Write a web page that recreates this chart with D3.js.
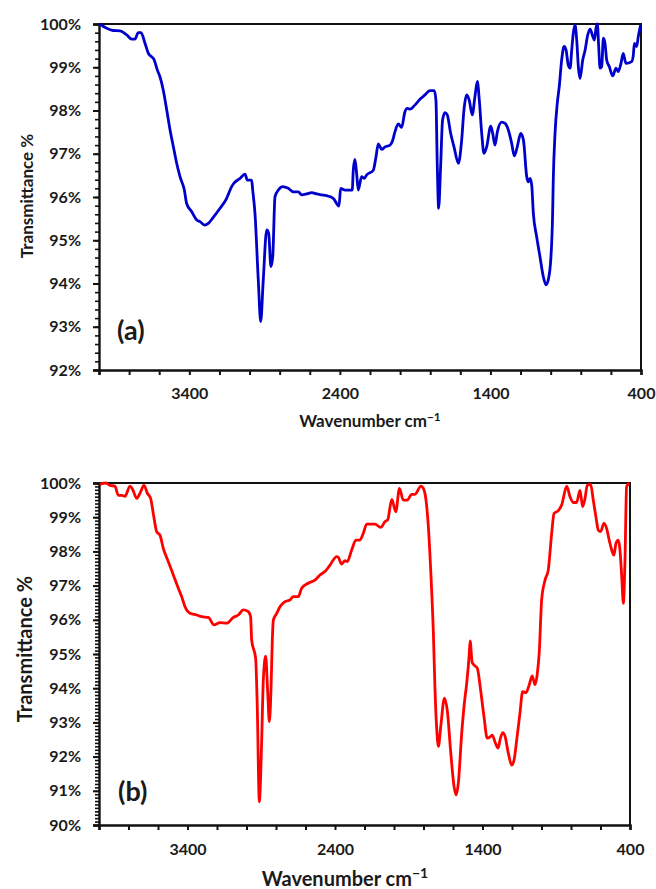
<!DOCTYPE html>
<html>
<head>
<meta charset="utf-8">
<script src="https://cdn.jsdelivr.net/npm/d3@7/dist/d3.min.js"></script>
<style>
  html, body { margin: 0; padding: 0; background: #fff; }
  svg { display: block; }
  text { font-family: Lato, "Open Sans", sans-serif; font-weight: 700; fill: #1a1a1a; }
</style>
</head>
<body>
<svg id="chart" width="656" height="889"></svg>
<script>
// FTIR spectrum (a): wavenumber (cm-1) and transmittance (%)
const waveA = [3995,3949,3907,3860,3816,3783,3761,3739,3721,3694,3672,3650,3635,3613,3595,3573,3550,3528,3506,3484,3462,3433,3418,3384,3351,3329,3296,3274,3241,3196,3152,3119,3108,3063,3030,3015,2986,2979,2964,2942,2926,2909,2886,2873,2858,2846,2831,2809,2780,2743,2709,2676,2654,2620,2587,2554,2521,2488,2444,2406,2395,2366,2318,2311,2300,2289,2278,2256,2238,2222,2178,2160,2145,2122,2100,2067,2050,2034,2012,1990,1968,1952,1934,1901,1868,1835,1802,1773,1762,1753,1744,1731,1718,1702,1687,1664,1642,1613,1591,1576,1558,1541,1521,1503,1487,1474,1458,1443,1425,1398,1385,1370,1354,1325,1303,1281,1259,1241,1222,1199,1181,1159,1148,1137,1126,1115,1093,1071,1049,1031,1016,998,987,983,971,956,943,927,911,898,883,871,860,850,838,827,816,805,787,771,756,738,720,710,699,690,681,672,661,650,639,628,610,588,566,551,533,518,500,462,451,444,429,418,402];
const transA = [100.0,99.9,99.85,99.84,99.75,99.65,99.65,99.8,99.8,99.55,99.32,99.24,99.18,98.94,98.78,98.47,98.01,97.55,97.16,96.78,96.47,96.16,95.85,95.66,95.47,95.43,95.35,95.39,95.53,95.74,95.97,96.24,96.3,96.43,96.53,96.39,96.39,96.16,95.62,94.08,93.12,94.08,95.24,95.16,94.39,94.62,96.01,96.16,96.24,96.2,96.12,96.12,96.05,96.07,96.1,96.07,96.05,96.03,95.97,95.79,96.2,96.16,96.16,96.62,96.87,96.55,96.16,96.47,96.43,96.51,96.62,96.93,97.23,97.1,97.16,97.2,97.3,97.51,97.69,97.61,97.97,98.05,98.03,98.13,98.26,98.36,98.46,98.46,98.24,96.7,95.74,96.7,97.78,97.95,97.9,97.47,97.16,96.78,97.32,98.01,98.36,98.24,97.9,98.32,98.67,98.24,97.47,97.01,97.16,97.64,97.47,97.2,97.51,97.73,97.7,97.55,97.24,96.95,97.16,97.47,97.32,96.47,96.35,96.43,96.28,95.62,95.08,94.62,94.16,93.97,94.08,94.62,95.62,96.35,97.47,98.17,98.55,99.17,99.48,99.4,99.05,98.98,99.4,99.78,99.98,99.63,99.01,98.74,99.17,99.4,99.71,99.88,99.71,99.63,99.9,100.0,99.48,98.98,99.01,99.67,99.55,99.17,99.01,98.8,98.98,98.9,99.09,99.32,99.09,99.13,99.28,99.55,99.48,99.71,99.98];

// FTIR spectrum (b)
const waveB = [3995,3953,3925,3892,3869,3846,3824,3790,3772,3744,3722,3695,3672,3650,3632,3609,3586,3564,3530,3496,3462,3439,3417,3383,3338,3304,3259,3220,3180,3134,3089,3055,3022,2988,2972,2965,2938,2927,2913,2897,2886,2870,2857,2845,2834,2825,2818,2795,2773,2739,2705,2683,2649,2626,2581,2536,2502,2468,2434,2388,2378,2355,2332,2317,2287,2258,2231,2208,2185,2163,2129,2090,2061,2043,2015,1988,1963,1937,1910,1880,1858,1817,1801,1783,1767,1749,1733,1722,1710,1699,1683,1658,1638,1615,1593,1579,1564,1541,1523,1507,1491,1484,1470,1458,1435,1413,1390,1368,1345,1334,1312,1294,1281,1263,1247,1225,1202,1186,1168,1146,1128,1105,1083,1063,1044,1028,1015,999,976,954,931,915,886,863,829,807,784,762,739,721,705,690,667,649,631,615,599,577,559,541,524,509,495,479,468,456,445,434,423,405];
const transB = [99.96,100.0,99.93,99.91,99.64,99.64,99.61,99.91,99.81,99.55,99.70,99.93,99.70,99.55,99.11,98.58,98.47,98.09,97.70,97.31,96.92,96.67,96.38,96.19,96.14,96.09,96.07,95.85,95.92,95.90,96.07,96.14,96.29,96.24,96.09,95.41,94.87,93.46,90.68,92.49,94.24,94.94,93.95,93.02,93.95,95.41,95.99,96.19,96.38,96.53,96.58,96.68,96.68,96.92,97.07,97.16,97.31,97.41,97.60,97.85,97.83,97.63,97.73,97.70,98.04,98.33,98.33,98.53,98.80,98.80,98.80,98.70,98.87,98.92,99.52,99.16,99.84,99.50,99.50,99.67,99.67,99.91,99.84,99.50,98.72,97.26,95.6,93.95,92.78,92.30,92.88,93.71,93.32,92.10,91.13,90.88,91.22,92.68,93.56,94.15,94.93,95.38,94.75,94.68,94.58,93.95,93.17,92.54,92.59,92.63,92.39,92.25,92.49,92.70,92.59,92.10,91.75,91.90,92.49,93.27,93.90,93.87,94.10,94.36,94.10,94.44,95.07,96.58,97.16,97.46,98.53,99.11,99.19,99.36,99.91,99.60,99.43,99.43,99.78,99.31,99.55,99.93,99.96,99.50,99.01,98.62,98.58,98.82,98.68,98.33,98.04,97.89,98.24,98.33,98.04,97.26,96.48,97.75,99.89,100.0];

// Axis settings
const waveDomain = [4000, 400];
const waveLabels = [3400, 2400, 1400, 400];
const yTicksA = d3.range(92, 100.01, 1);
const yTicksB = d3.range(90, 100.01, 1);

const svg = d3.select("#chart");

function panel(cfg) {
  const { left, right, top, bottom } = cfg.box;
  const x = d3.scaleLinear().domain(waveDomain).range([left, right]);
  const y = d3.scaleLinear().domain(cfg.yDomain).range([bottom, top]);
  const g = svg.append("g");

  // frame: top and right borders
  g.append("path")
    .attr("d", `M${left},${top}H${right}V${bottom}`)
    .attr("fill", "none").attr("stroke", "#111").attr("stroke-width", 2);

  // minor y ticks
  g.append("g").attr("transform", `translate(${left},0)`)
    .call(d3.axisLeft(y).tickValues(d3.range(cfg.yDomain[0], cfg.yDomain[1] + 1e-6, cfg.yMinor)).tickSize(4).tickFormat(""))
    .call(a => a.select(".domain").remove())
    .call(a => a.selectAll("line").attr("stroke", "#111").attr("stroke-width", 1.6));

  // major y ticks and labels
  const ya = g.append("g").attr("transform", `translate(${left},0)`)
    .call(d3.axisLeft(y).tickValues(cfg.yTicks).tickSize(6).tickPadding(12).tickFormat(d => d3.format("d")(d) + "%"));
  ya.select(".domain").attr("stroke", "#111").attr("stroke-width", 2.4);
  ya.selectAll("line").attr("stroke", "#111").attr("stroke-width", 2);
  ya.selectAll("text").style("font-size", "16px").style("font-family", "Lato, sans-serif").style("font-weight", 700).attr("fill", "#1a1a1a");

  // x ticks every 200, labels every 1000
  const xa = g.append("g").attr("transform", `translate(0,${bottom})`)
    .call(d3.axisBottom(x).tickValues(d3.range(4000, 399, -200)).tickSize(5).tickPadding(cfg.xPad)
      .tickFormat(d => waveLabels.includes(d) ? d : ""));
  xa.select(".domain").attr("stroke", "#111").attr("stroke-width", 2.4);
  xa.selectAll("line").attr("stroke", "#111").attr("stroke-width", 2);
  xa.selectAll("text").style("font-size", "16px").style("font-family", "Lato, sans-serif").style("font-weight", 700).attr("fill", "#1a1a1a");

  // spectrum
  const pts = cfg.wave.map((w, i) => [w, cfg.trans[i]]);
  g.append("path")
    .datum(pts)
    .attr("fill", "none")
    .attr("stroke", cfg.color)
    .attr("stroke-width", 2.8)
    .attr("stroke-linejoin", "round")
    .attr("d", d3.line().x(d => x(d[0])).y(d => y(d[1])).curve(d3.curveMonotoneX));

  // axis titles
  const xt = g.append("text")
    .attr("x", cfg.xTitle[0]).attr("y", cfg.xTitle[1])
    .attr("text-anchor", "middle")
    .style("font-size", cfg.titleSize + "px");
  xt.append("tspan").text("Wavenumber cm");
  xt.append("tspan").attr("dy", -cfg.titleSize * 0.38).style("font-size", (cfg.titleSize * 0.7) + "px").text("\u22121");

  g.append("text")
    .attr("transform", `translate(${cfg.yTitle[0]},${cfg.yTitle[1]}) rotate(-90)`)
    .attr("text-anchor", "middle")
    .style("font-size", cfg.titleSize + "px")
    .text("Transmittance %");

  // panel label
  g.append("text")
    .attr("x", cfg.tag[0]).attr("y", cfg.tag[1])
    .style("font-size", "27px")
    .text(cfg.label);
}

panel({
  box: { left: 99, right: 641, top: 24, bottom: 370 },
  yDomain: [92, 100], yTicks: yTicksA, yMinor: 0.2, xPad: 13,
  wave: waveA, trans: transA, color: "#0000cc",
  titleSize: 17, xTitle: [370, 427], yTitle: [33, 196],
  tag: [117, 340], label: "(a)"
});

panel({
  box: { left: 99, right: 630, top: 483, bottom: 825 },
  yDomain: [90, 100], yTicks: yTicksB, yMinor: 0.1, xPad: 14,
  wave: waveB, trans: transB, color: "#ff0000",
  titleSize: 20, xTitle: [345, 886], yTitle: [32, 649],
  tag: [118, 801], label: "(b)"
});
</script>
</body>
</html>
